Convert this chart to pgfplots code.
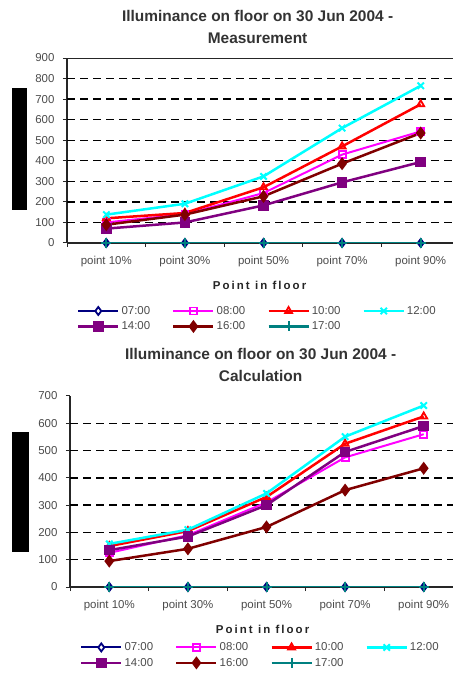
\documentclass[border=0pt]{standalone}
\usepackage{fontspec}
\setmainfont{Liberation Sans}
\usepackage{pgfplots}
\usepackage{pgfplotstable}
\pgfplotsset{compat=1.18}
\definecolor{cNavy}{RGB}{0,0,128}
\definecolor{cMag}{RGB}{255,0,255}
\definecolor{cRed}{RGB}{255,0,0}
\definecolor{cCyan}{RGB}{0,255,255}
\definecolor{cPurp}{RGB}{128,0,128}
\definecolor{cMaroon}{RGB}{128,0,0}
\definecolor{cTeal}{RGB}{0,128,128}

\pgfplotstableread{
x h07 h08 h10 h12 h14 h16 h17
0 0 100 120 138 70 89 0
1 0 140 146 191 100 138 0
2 0 243 271 324 183 227 0
3 0 430 470 559 295 386 0
4 0 543 675 765 394 535 0
}\meas
\pgfplotstableread{
x h07 h08 h10 h12 h14 h16 h17
0 0 125 150 158 135 95 0
1 0 190 205 210 185 140 0
2 0 310 330 343 300 220 0
3 0 475 525 551 495 355 0
4 0 560 625 665 590 435 0
}\calc

\pgfplotsset{
  chart/.style={
    scale only axis, width=393bp,
    xmin=-0.5, xmax=4.5, ymin=0,
    axis x line*=bottom, axis y line*=left,
    axis line style={black!85, line width=1.5bp, -},
    xtick={-0.5,0.5,1.5,2.5,3.5}, xticklabels={},
    extra x ticks={0,1,2,3,4},
    extra x tick labels={point 10\%,point 30\%,point 50\%,point 70\%,point 90\%},
    extra x tick style={major tick length=0pt, xticklabel style={yshift=-10bp}},
    yticklabel style={xshift=-5bp},
    tick align=outside, major tick length=4bp,
    tick style={black!85, line width=1bp},
    every tick label/.append style={font=\fontsize{11.5}{13}\selectfont, text=black!70},
    /pgf/number format/assume math mode=true,
    xlabel={\addfontfeature{LetterSpace=18}\bfseries Point in floor},
    xlabel style={font=\fontsize{11.5}{13}\selectfont, text=black!85},
    title style={font=\bfseries\fontsize{15.5}{22}\selectfont, align=center, text=black!80, anchor=south, yshift=5bp},
    legend columns=4,
    legend style={draw=none, fill=none, anchor=north west, font=\fontsize{11.5}{13}\selectfont, text=black!70,
      /tikz/every even column/.append style={column sep=20bp}, row sep=2bp, inner sep=0pt},
    legend image code/.code={\draw[mark repeat=2,mark phase=2,#1] plot coordinates {(0bp,0bp) (20bp,0bp) (40bp,0bp)};},
    cycle list={
      {cNavy, line width=2bp, mark=diamond*, mark size=4bp, mark options={fill=white, line width=1.8bp}},
      {cMag, line width=2bp, mark=square, mark size=3.5bp, mark options={fill=white, line width=1.8bp}},
      {cRed, line width=2.5bp, mark=triangle, mark size=4bp, mark options={fill=white, line width=1.8bp}},
      {cCyan, line width=2.5bp, mark=x, mark size=4.5bp, mark options={line width=2bp}},
      {cPurp, line width=2.5bp, mark=square*, mark size=4bp},
      {cMaroon, line width=2.5bp, mark=diamond*, mark size=4.5bp},
      {cTeal, line width=2.5bp, mark=+, mark size=5bp, mark options={line width=2bp}}
    },
  }
}

\begin{document}
\begin{tikzpicture}
\clip (0,0) rectangle (453bp,673bp);
\fill[white] (0,0) rectangle (453bp,673bp);
\fill[black] (12bp,463bp) rectangle (27bp,585bp);
\fill[black] (12bp,121bp) rectangle (29bp,241bp);

\begin{axis}[chart,
  at={(67bp,430bp)}, anchor=south west, height=185bp,
  ymax=900, ytick={0,100,...,900},
  extra y ticks={100,200,...,800}, extra y tick labels={},
  extra y tick style={grid=major, major tick length=0pt},
  grid style={black, line width=1.3bp, dash pattern=on 8bp off 5bp},
  title={Illuminance on floor on 30 Jun 2004 -\\Measurement},
  title style={at={(axis description cs:0.485,1)}},
  xlabel style={at={(axis description cs:0.49,-0.228)}, anchor=center},
  legend style={at={(axis description cs:0.025,-0.33)}},
]
\draw[black!85, line width=1.5bp] (rel axis cs:0,1) -- (rel axis cs:1,1);
\addplot table[x=x,y=h07]{\meas};
\addplot table[x=x,y=h08]{\meas};
\addplot table[x=x,y=h10]{\meas};
\addplot table[x=x,y=h12]{\meas};
\addplot table[x=x,y=h14]{\meas};
\addplot table[x=x,y=h16]{\meas};
\addplot table[x=x,y=h17]{\meas};
\legend{07:00,08:00,10:00,12:00,14:00,16:00,17:00}
\end{axis}

\begin{axis}[chart,
  at={(70bp,86bp)}, anchor=south west, height=191bp,
  ymax=700, ytick={0,100,...,700},
  extra y ticks={100,200,...,600}, extra y tick labels={},
  extra y tick style={grid=major, major tick length=0pt},
  grid style={black, line width=1.3bp, dash pattern=on 8bp off 5bp},
  title={Illuminance on floor on 30 Jun 2004 -\\Calculation},
  title style={at={(axis description cs:0.485,1)}},
  xlabel style={at={(axis description cs:0.49,-0.22)}, anchor=center},
  legend style={at={(axis description cs:0.025,-0.28)}},
]
\addplot table[x=x,y=h07]{\calc};
\addplot table[x=x,y=h08]{\calc};
\addplot table[x=x,y=h10]{\calc};
\addplot table[x=x,y=h12]{\calc};
\addplot table[x=x,y=h14]{\calc};
\addplot table[x=x,y=h16]{\calc};
\addplot table[x=x,y=h17]{\calc};
\legend{07:00,08:00,10:00,12:00,14:00,16:00,17:00}
\end{axis}
\end{tikzpicture}
\end{document}
